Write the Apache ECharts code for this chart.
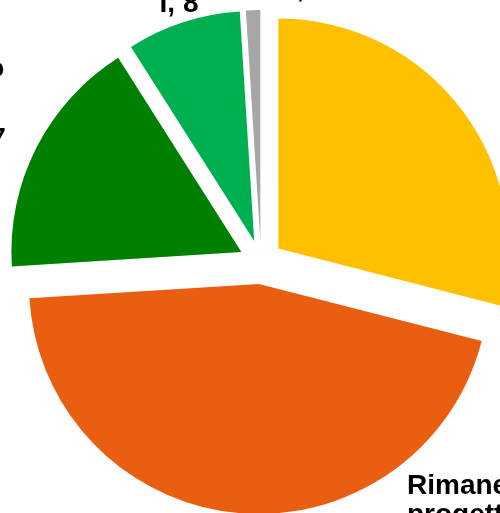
<!DOCTYPE html>
<html>
<head>
<meta charset="utf-8">
<script src="https://cdn.jsdelivr.net/npm/echarts@6/dist/echarts.min.js"></script>
<style>html,body{margin:0;padding:0;background:#fff;}#c{width:500px;height:513px;}</style>
</head>
<body>
<div id="c"></div>
<script>
var categories = ['Materie prime', 'Rimanenze\nprogetti', 'Lavori in corso\nsu\nordinazione', 'Materiale classe\nI', 'Altro'];
var values = [29, 45, 17, 8, 1];
var colors = ['#FFC000', '#E95E10', '#008000', '#00B050', '#A6A6A6'];

var labelPos = [
  {x: 620, y: 80, align: 'left', lh: 30},
  {x: 407, y: 472, align: 'left', lh: 29},
  {x: -96, y: 52, align: 'center', lh: 35},
  {x: 179, y: -41, align: 'center', lh: 30},
  {x: 328, y: -26, align: 'right', lh: 30}
];

var font = 'bold 28px "Liberation Sans", Arial, sans-serif';
var graphics = values.map(function (v, i) {
  var p = labelPos[i];
  return {
    type: 'text',
    x: p.x, y: p.y,
    silent: true,
    style: {
      text: categories[i] + ', ' + v,
      font: font,
      fill: '#000',
      textAlign: p.align,
      textVerticalAlign: 'top',
      lineHeight: p.lh
    }
  };
});

var chart = echarts.init(document.getElementById('c'), null, {renderer: 'canvas'});
chart.setOption({
  animation: false,
  graphic: graphics,
  series: [{
    type: 'pie',
    center: [261, 262],
    radius: [0, 230],
    startAngle: 90,
    clockwise: true,
    selectedMode: 'multiple',
    selectedOffset: 22,
    label: {show: false},
    labelLine: {show: false},
    itemStyle: {borderWidth: 0},
    emphasis: {disabled: true},
    data: values.map(function (v, i) {
      return {value: v, name: categories[i], selected: true, itemStyle: {color: colors[i]}};
    })
  }]
});
</script>
</body>
</html>
